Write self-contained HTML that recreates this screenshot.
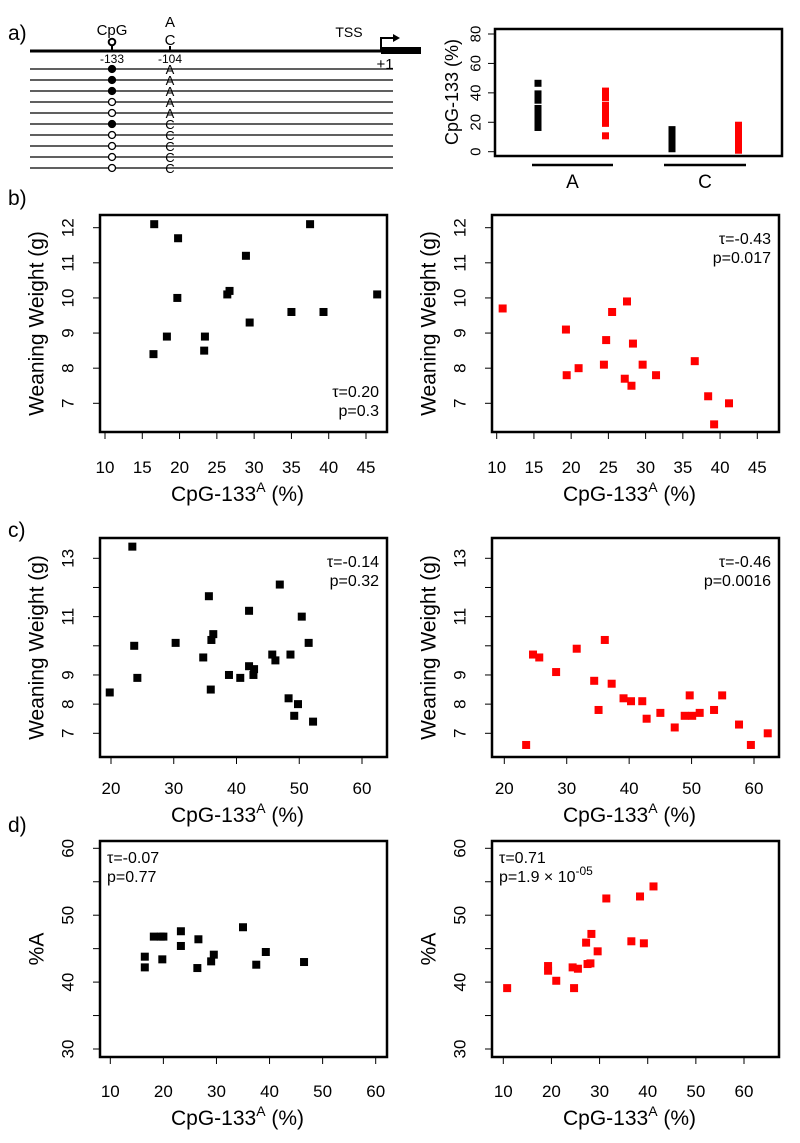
<!DOCTYPE html>
<html><head><meta charset="utf-8"><style>
body{margin:0;background:#fff}
svg{display:block;font-family:"Liberation Sans",sans-serif}
</style></head><body>
<svg id="fig" width="800" height="1143" viewBox="0 0 800 1143" xmlns="http://www.w3.org/2000/svg">
<g>
<text x="8" y="40" font-size="21">a)</text>
<line x1="30" y1="51" x2="382" y2="51" stroke="#000" stroke-width="3"/>
<rect x="381" y="47" width="40" height="7" fill="#000"/>
<path d="M381 51 V38 H394" fill="none" stroke="#000" stroke-width="2"/>
<path d="M393 34 L400 38 L393 42 Z" fill="#000"/>
<text x="349" y="37" font-size="14" text-anchor="middle">TSS</text>
<text x="385" y="69" font-size="15" text-anchor="middle">+1</text>
<line x1="112" y1="45" x2="112" y2="51" stroke="#000" stroke-width="2"/>
<circle cx="112" cy="42" r="3.3" fill="#fff" stroke="#000" stroke-width="2"/>
<text x="112" y="35" font-size="15" text-anchor="middle">CpG</text>
<text x="112" y="63" font-size="12" text-anchor="middle">-133</text>
<text x="170" y="27" font-size="15" text-anchor="middle">A</text>
<text x="170" y="45" font-size="15" text-anchor="middle">C</text>
<line x1="170" y1="46" x2="170" y2="51" stroke="#000" stroke-width="2"/>
<text x="170" y="63" font-size="12" text-anchor="middle">-104</text>
<g id="reads"></g>
</g>
<g id="pa"></g><g id="pb1"></g><g id="pb2"></g><g id="pc1"></g><g id="pc2"></g><g id="pd1"></g><g id="pd2"></g>
<text x="8" y="205" font-size="21">b)</text>
<text x="8" y="537" font-size="21">c)</text>
<text x="8" y="832" font-size="21">d)</text>
</svg>
<script>
const NS="http://www.w3.org/2000/svg";
function mk(p,tag,at,txt){const e=document.createElementNS(NS,tag);for(const k in at)e.setAttribute(k,at[k]);if(txt!==undefined)e.textContent=txt;p.appendChild(e);return e;}

// Panel a reads
const readMeth=[1,1,1,0,0,1,0,0,0,0];
const readAllele=["A","A","A","A","A","C","C","C","C","C"];
// Panel a right data
const aBlackA=[16.6,19.8,28.9,26.4,26.7,19.7,46.5,35,39.3,29.4,18.3,23.4,23.3,16.5,37.5];
const aRedA=[10.8,19.3,19.4,21,24.4,24.7,25.5,27.5,28.3,27.2,28.1,29.6,31.4,36.6,38.4,41.2,39.2];
const aBlackC=[2,4,5,6,7,8,9,10,11,12,13,14,15];
const aRedC=[1,3,4,6,7,8,10,11,12,13,14,16,17,18];
const aTicks=[0,20,40,60,80];
// b
const b1x=[16.6,19.8,28.9,26.4,26.7,19.7,46.5,35,39.3,29.4,18.3,23.4,23.3,16.5,37.5];
const b1y=[12.1,11.7,11.2,10.1,10.2,10.0,10.1,9.6,9.6,9.3,8.9,8.9,8.5,8.4,12.1];
const b2x=[10.8,19.3,19.4,21,24.4,24.7,25.5,27.5,28.3,27.2,28.1,29.6,31.4,36.6,38.4,41.2,39.2];
const b2y=[9.7,9.1,7.8,8.0,8.1,8.8,9.6,9.9,8.7,7.7,7.5,8.1,7.8,8.2,7.2,7.0,6.4];
const bXTicks=[10,15,20,25,30,35,40,45];
const bYTicks=[7,8,9,10,11,12];
// c
const c1x=[23.4,35.6,46.9,42,50.4,36.3,36,23.7,30.3,51.5,34.7,45.7,48.6,46.2,42,42.8,42.7,38.8,40.6,24.2,19.8,35.9,48.3,49.8,49.2,52.2];
const c1y=[13.4,11.7,12.1,11.2,11,10.4,10.2,10,10.1,10.1,9.6,9.7,9.7,9.5,9.3,9.2,9.0,9.0,8.9,8.9,8.4,8.5,8.2,8.0,7.6,7.4];
const c2x=[23.5,24.6,25.6,28.3,31.6,36.1,34.4,37.2,35.1,39.1,40.3,42.1,42.8,45,47.3,48.9,50.1,49.7,51.3,53.6,54.9,57.6,59.5,62.2];
const c2y=[6.6,9.7,9.6,9.1,9.9,10.2,8.8,8.7,7.8,8.2,8.1,8.1,7.5,7.7,7.2,7.6,7.6,8.3,7.7,7.8,8.3,7.3,6.6,7.0];
const cXTicks=[20,30,40,50,60];
const cYTicks=[7,8,9,10,11,12,13];
const cYLabels=[7,8,9,11,13];
// d
const d1x=[16.5,16.5,18.2,19.5,20,19.8,23.3,23.3,26.6,26.4,29.5,29,35,39.3,37.5,46.5];
const d1y=[43.8,42.2,46.8,46.8,46.8,43.4,47.6,45.4,46.4,42.1,44.1,43.1,48.2,44.5,42.6,43.0];
const d2x=[10.8,19.3,19.3,21,24.4,25.5,24.7,27.2,28.3,27.5,28.1,29.6,31.4,36.6,39.2,38.4,41.2];
const d2y=[39.1,42.4,41.7,40.2,42.2,42.0,39.1,45.9,47.2,42.7,42.8,44.6,52.5,46.1,45.8,52.8,54.3];
const dXTicks=[10,20,30,40,50,60];
const dYTicks=[30,35,40,45,50,55,60];
const dYLabels=[30,40,50,60];

// reads
const rg=document.getElementById('reads');
readMeth.forEach((m,i)=>{
  const y=69+i*11;
  const l=mk(rg,'line',{x1:30,y1:y,x2:393,y2:y,stroke:'#000','stroke-width':1.2});
  
  
  const c=mk(rg,'circle',{cx:112,cy:y,r:3.5,fill:m?'#000':'#fff',stroke:'#000','stroke-width':1.3});
  
  
  const t=mk(rg,'text',{x:170,y:y+5,'font-size':13,'text-anchor':'middle'},readAllele[i]);
  
  
});

// panel a right
(function(){
  const g=document.getElementById('pa');
  const y0=151.7,k=(151.7-34)/80;
  const Y=v=>y0-v*k;
  const box=mk(g,'rect',{x:495,y:29,width:287,height:127,fill:'none',stroke:'#000','stroke-width':2.5});
  
  
  aTicks.forEach(t=>{
    const l=mk(g,'line',{x1:488,x2:495,y1:Y(t),y2:Y(t),stroke:'#000','stroke-width':1});
    
    
    const tx=mk(g,'text',{x:476,y:Y(t),'font-size':15,'text-anchor':'middle',transform:`rotate(-90 476 ${Y(t)})`,'dominant-baseline':'central'},t);
    
    
  });
  const yt=mk(g,'text',{x:452,y:92,'font-size':18,'text-anchor':'middle',transform:'rotate(-90 452 92)','dominant-baseline':'central'},'CpG-133 (%)');
  
  
  [[aBlackA,538,'#000'],[aRedA,605.5,'#f00'],[aBlackC,672,'#000'],[aRedC,738.5,'#f00']].forEach(([arr,x,col])=>{
    arr.forEach(v=>{
      const r=mk(g,'rect',{x:x-3.5,y:Y(v)-3.5,width:7,height:7,fill:col});
      
      
    });
  });
  [[532,613,'A'],[664,746,'C']].forEach(([a,b,lab])=>{
    const l=mk(g,'line',{x1:a,x2:b,y1:165,y2:165,stroke:'#000','stroke-width':2.5});
    
    
    const t=mk(g,'text',{x:(a+b)/2,y:188,'font-size':19,'text-anchor':'middle'},lab);
    
    
  });
})();

function scatter(id,o){
  const g=document.getElementById(id);
  const X=v=>o.xp0+(v-o.xv0)*(o.xp1-o.xp0)/(o.xv1-o.xv0);
  const Y=v=>o.yp0+(v-o.yv0)*(o.yp1-o.yp0)/(o.yv1-o.yv0);
  const box=mk(g,'rect',{x:o.bx,y:o.by,width:o.bw,height:o.bh,fill:'none',stroke:'#000','stroke-width':2.5});
  
  
  const bot=o.by+o.bh;
  o.xt.forEach(t=>{
    const l=mk(g,'line',{x1:X(t),x2:X(t),y1:bot,y2:bot+7,stroke:'#000','stroke-width':1});
    
    
    const tx=mk(g,'text',{x:X(t),y:o.xly,'font-size':17,'text-anchor':'middle'},t);
    
    
  });
  const al=mk(g,'line',{x1:X(o.xt[0]),x2:X(o.xt[o.xt.length-1]),y1:bot,y2:bot,stroke:'#000','stroke-width':1});
  
  
  o.yt.forEach(t=>{
    const l=mk(g,'line',{x1:o.bx-7,x2:o.bx,y1:Y(t),y2:Y(t),stroke:'#000','stroke-width':1});
    
    
  });
  o.yl.forEach(t=>{
    const lx=o.bx-32;
    const tx=mk(g,'text',{x:lx,y:Y(t),'font-size':17,'text-anchor':'middle','dominant-baseline':'central',transform:`rotate(-90 ${lx} ${Y(t)})`},t);
    
    
  });
  const xt=mk(g,'text',{x:o.bx+o.bw/2-6,y:o.xly+28,'font-size':21,'text-anchor':'middle'});
  xt.innerHTML='CpG-133<tspan font-size="14" dy="-9">A</tspan><tspan dy="9"> (%)</tspan>';
  
  
  const ytx=o.bx-63,ycy=o.by+o.bh/2;
  const yt=mk(g,'text',{x:ytx,y:ycy,'font-size':21,'text-anchor':'middle','dominant-baseline':'central',transform:`rotate(-90 ${ytx} ${ycy})`},o.ytitle);
  
  
  o.px.forEach((v,i)=>{
    const r=mk(g,'rect',{x:X(v)-4,y:Y(o.py[i])-4,width:8,height:8,fill:o.col});
    
    
  });
  const s1=mk(g,'text',{x:o.sx,y:o.sy,'font-size':16,'text-anchor':o.sa},o.s1);
  
  
  const s2=mk(g,'text',{x:o.sx,y:o.sy+19,'font-size':16,'text-anchor':o.sa});
  s2.innerHTML=o.s2;
  
  
}
const bL={bx:100,by:215,bw:287,bh:217,yp0:403.3,yv0:7,yp1:227.7,yv1:12,xt:bXTicks,yt:bYTicks,yl:bYTicks,xly:473,ytitle:'Weaning Weight (g)'};
scatter('pb1',Object.assign({},bL,{xp0:105,xv0:10,xp1:366,xv1:45,px:b1x,py:b1y,col:'#000',sx:379,sy:397,sa:'end',s1:'τ=0.20',s2:'p=0.3'}));
scatter('pb2',Object.assign({},bL,{bx:492,xp0:496.7,xv0:10,xp1:757.3,xv1:45,px:b2x,py:b2y,col:'#f00',sx:771,sy:244,sa:'end',s1:'τ=-0.43',s2:'p=0.017'}));
const cL={bx:100,by:538,bw:287,bh:219,yp0:733.3,yv0:7,yp1:558.3,yv1:13,xt:cXTicks,yt:cYTicks,yl:cYLabels,xly:794,ytitle:'Weaning Weight (g)'};
scatter('pc1',Object.assign({},cL,{xp0:111,xv0:20,xp1:362,xv1:60,px:c1x,py:c1y,col:'#000',sx:379,sy:567,sa:'end',s1:'τ=-0.14',s2:'p=0.32'}));
scatter('pc2',Object.assign({},cL,{bx:492,xp0:504.3,xv0:20,xp1:754,xv1:60,px:c2x,py:c2y,col:'#f00',sx:771,sy:567,sa:'end',s1:'τ=-0.46',s2:'p=0.0016'}));
const dL={bx:100,by:841,bw:287,bh:216,yp0:1049,yv0:30,yp1:848.3,yv1:60,xt:dXTicks,yt:dYTicks,yl:dYLabels,xly:1097,ytitle:'%A'};
scatter('pd1',Object.assign({},dL,{xp0:110.3,xv0:10,xp1:375.7,xv1:60,px:d1x,py:d1y,col:'#000',sx:107,sy:863,sa:'start',s1:'τ=-0.07',s2:'p=0.77'}));
scatter('pd2',Object.assign({},dL,{bx:492,xp0:503.3,xv0:10,xp1:744,xv1:60,px:d2x,py:d2y,col:'#f00',sx:499,sy:863,sa:'start',s1:'τ=0.71',s2:'p=1.9 × 10<tspan font-size="12" dy="-7">-05</tspan>'}));
</script>
</body></html>
